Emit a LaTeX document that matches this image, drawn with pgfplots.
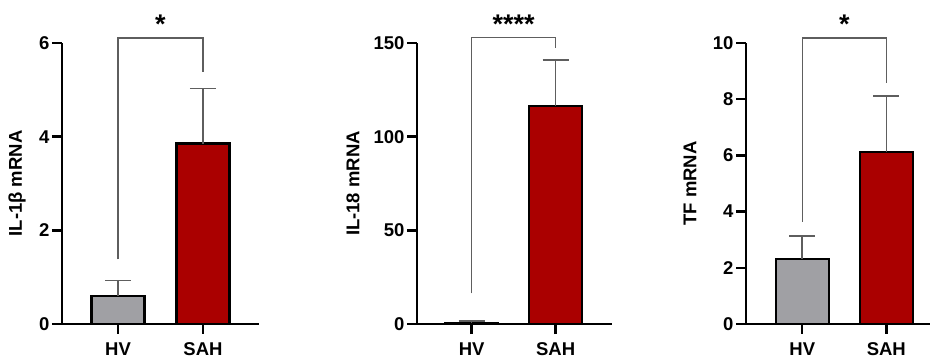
\documentclass[border=0pt]{standalone}
\usepackage{fontspec}
\setmainfont{Liberation Sans}
\usepackage{pgfplots}
\pgfplotsset{compat=1.18}

\definecolor{hvgray}{HTML}{A0A0A4}
\definecolor{sahred}{HTML}{AA0000}
\definecolor{whisk}{HTML}{5E5E5E}

\newcommand{\lblfont}{\fontsize{18.5}{20}\selectfont\bfseries}

\tikzset{
  stars/.style={anchor=base, font=\fontsize{27}{27}\selectfont\bfseries},
  groupmark/.style={line width=2.4pt, draw=black},
}

\pgfplotsset{
  mrna/.style={
    scale only axis,
    height=281pt,
    anchor=south west,
    axis x line*=bottom,
    axis y line*=left,
    axis line style={-, line width=2.6pt, black},
    ymin=0,
    xtick={0,1},
    xticklabels={HV,SAH},
    tick align=outside,
    major tick length=10pt,
    tick style={line width=2.4pt, black},
    ticklabel style={font=\lblfont},
    xticklabel style={yshift=-5pt},
    yticklabel style={xshift=1pt},
    ylabel style={font=\lblfont, anchor=center},
    /pgf/number format/assume math mode=true,
    clip=false,
    bar width=53pt,
  },
  grpbar/.style={
    ybar, bar shift=0pt, draw=black, line width=2.4pt, fill=#1,
    error bars/.cd,
      y dir=plus, y explicit,
      error bar style={line width=1.6pt, whisk},
      error mark options={rotate=90, mark size=13pt, line width=1.6pt, whisk},
  },
  bracket/.style={sharp plot, no marks, whisk, line width=1.4pt},
}

\begin{document}
\begin{tikzpicture}
\useasboundingbox (0pt,0pt) rectangle (930pt,359pt);

% IL-1 beta
\begin{axis}[mrna, at={(62pt,35pt)}, width=197pt,
  xmin=-0.66, xmax=1.66, ymax=6, ytick={0,2,4,6},
  ylabel={IL-1β mRNA},
  ylabel style={at={(axis description cs:-0.228,0.5)}}]
  \addplot[grpbar=hvgray] coordinates {(0,0.60) +- (0,0.33)};
  \addplot[grpbar=sahred] coordinates {(1,3.85) +- (0,1.18)};
  \addplot[bracket] coordinates {(0,1.38) (0,6.11) (1,6.11) (1,5.38)};
  \node[stars] at (axis cs:0.5,6.2) {*};
  \coordinate (a1) at (axis cs:0,0);
  \coordinate (b1) at (axis cs:1,0);
\end{axis}

% IL-18
\begin{axis}[mrna, at={(417pt,35pt)}, width=195pt,
  xmin=-0.65, xmax=1.67, ymax=150, ytick={0,50,100,150},
  ylabel={IL-18 mRNA},
  ylabel style={at={(axis description cs:-0.328,0.5)}}]
  \addplot[grpbar=hvgray] coordinates {(0,0.6) +- (0,1.0)};
  \addplot[grpbar=sahred] coordinates {(1,116.4) +- (0,24.6)};
  \addplot[bracket] coordinates {(0,16.4) (0,152.8) (1,152.8) (1,147.2)};
  \node[stars] at (axis cs:0.5,155) {****};
  \coordinate (a2) at (axis cs:0,0);
  \coordinate (b2) at (axis cs:1,0);
\end{axis}

% TF
\begin{axis}[mrna, at={(746pt,35pt)}, width=184pt,
  xmin=-0.67, xmax=1.52, ymax=10, ytick={0,2,4,6,8,10},
  ylabel={TF mRNA},
  ylabel style={at={(axis description cs:-0.304,0.5)}}]
  \addplot[grpbar=hvgray] coordinates {(0,2.31) +- (0,0.82)};
  \addplot[grpbar=sahred] coordinates {(1,6.12) +- (0,1.99)};
  \addplot[bracket] coordinates {(0,3.64) (0,10.18) (1,10.18) (1,8.59)};
  \node[stars] at (axis cs:0.5,10.33) {*};
  \coordinate (a3) at (axis cs:0,0);
  \coordinate (b3) at (axis cs:1,0);
\end{axis}

% group tick marks below each x axis
\foreach \c in {a1,b1,a2,b2,a3,b3}
  \draw[groupmark] (\c) -- ++(0pt,-10pt);
\end{tikzpicture}
\end{document}
